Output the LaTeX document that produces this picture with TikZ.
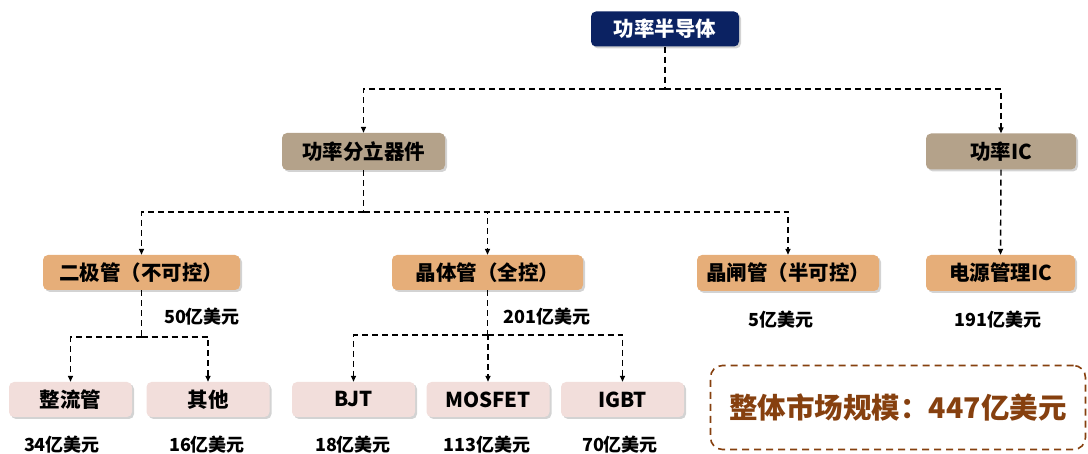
\documentclass[tikz,border=0pt]{standalone}
\usepackage{fontspec}
\setmainfont{Noto Sans CJK SC}
\newfontfamily\cjk{Noto Sans CJK SC}
\usetikzlibrary{shadows,arrows.meta}
\definecolor{navy}{HTML}{0B2262}
\definecolor{taupe}{HTML}{B4A28A}
\definecolor{orng}{HTML}{E6AE79}
\definecolor{pinkb}{HTML}{F2DEDB}
\definecolor{brn}{HTML}{86400F}
\tikzset{
  box/.style={rounded corners=5pt, inner sep=0pt, minimum height=35pt,
    font=\cjk\bfseries\fontsize{20.5}{24}\selectfont,
    drop shadow={opacity=0.35, shadow xshift=2pt, shadow yshift=-2pt}},
  topbox/.style={box, fill=navy, text=white},
  l2box/.style={box, fill=taupe, text=black},
  l3box/.style={box, fill=orng, text=black},
  l4box/.style={box, fill=pinkb, text=black, minimum width=123pt},
  val/.style={font=\cjk\bfseries\fontsize{18}{21}\selectfont, text=black, inner sep=0pt},
  dline/.style={draw=black, line width=1.4pt, dash pattern=on 6pt off 4pt},
  aline/.style={dline, -{Triangle[length=6pt,width=5pt]}},
}
\begin{document}
\begin{tikzpicture}[x=1pt,y=-1pt]
\useasboundingbox (0,0) rectangle (1088,454);
% nodes
\node[topbox, minimum width=148pt] (top) at (665,29) {功率半导体};
\node[l2box, minimum width=163pt, minimum height=37pt] (disc) at (363.5,151.5) {功率分立器件};
\node[l2box, minimum width=150pt, minimum height=36pt] (ic) at (1001,151.5) {功率IC};
\node[l3box, minimum width=197pt] (diode) at (141.5,272.5) {二极管（不可控）};
\node[l3box, minimum width=191pt] (trans) at (487.5,272.5) {晶体管（全控）};
\node[l3box, minimum width=182pt, minimum height=36pt] (thy) at (788,273) {晶闸管（半可控）};
\node[l3box, minimum width=149pt, minimum height=36pt] (pmic) at (1000.5,273) {电源管理IC};
\node[l4box] (rect) at (70.5,399.5) {整流管};
\node[l4box] (other) at (208,399.5) {其他};
\node[l4box] (bjt) at (353.5,399.5) {BJT};
\node[l4box] (mos) at (488,399.5) {MOSFET};
\node[l4box] (igbt) at (622.5,399.5) {IGBT};
% values
\node[val] (v50) at (202,317) {50亿美元};
\node[val] (v201) at (547,317) {201亿美元};
\node[val] (v5) at (781,320) {5亿美元};
\node[val] (v191) at (998,320) {191亿美元};
\node[val] (v34) at (62,445) {34亿美元};
\node[val] (v16) at (207,445) {16亿美元};
\node[val] (v18) at (353,445) {18亿美元};
\node[val] (v113) at (487,445) {113亿美元};
\node[val] (v70) at (620,445) {70亿美元};
% summary
\node[draw=brn, line width=1.6pt, dash pattern=on 7pt off 5pt, rounded corners=12pt,
  minimum width=375pt, minimum height=84pt, inner sep=0pt, text=brn,
  font=\cjk\bfseries\fontsize{28.5}{32}\selectfont] (sum) at (898,407.5) {整体市场规模：447亿美元};
% connectors
\coordinate (j1) at (665,89);
\draw[dline] (top.south) -- (j1);
\draw[aline] (j1) -| (disc.north);
\draw[aline] (j1) -| (ic.north);
\coordinate (j2) at (363.5,212);
\draw[dline] (disc.south) -- (j2);
\draw[aline] (j2) -| (diode.north);
\draw[aline] (j2) -| (trans.north);
\draw[aline] (j2) -| (thy.north);
\draw[aline] (ic.south) -- (pmic.north);
\coordinate (j3) at (141.5,337);
\draw[dline] (diode.south) -- (j3);
\draw[aline] (j3) -| (rect.north);
\draw[aline] (j3) -| (other.north);
\coordinate (j4) at (487.5,335);
\draw[dline] (trans.south) -- (j4);
\draw[aline] (j4) -| (bjt.north);
\draw[aline] (j4) -| (mos.north);
\draw[aline] (j4) -| (igbt.north);
\end{tikzpicture}
\end{document}
